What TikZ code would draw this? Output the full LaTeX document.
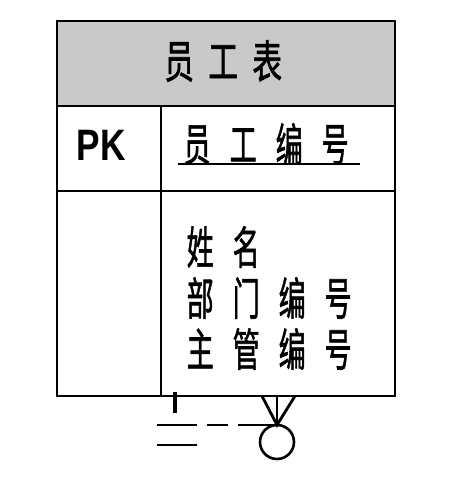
\documentclass[tikz,border=0pt]{standalone}
\usepackage{fontspec}
\setmainfont{Liberation Sans}
\newfontfamily\cjk[FakeBold=1.5]{Noto Sans CJK SC}
\newcommand\cch[1]{\makebox[44pt]{\scalebox{0.66}[1]{#1}}}
\newcommand\cca[1]{\makebox[46pt]{\scalebox{0.6}[1]{#1}}}
\begin{document}
\begin{tikzpicture}[x=1pt,y=-1pt,
  frame/.style={line width=2pt},
  cjktext/.style={font=\cjk\fontsize{45}{45}\selectfont, inner sep=0pt, anchor=west},
  pktext/.style={font=\bfseries\fontsize{44}{44}\selectfont, inner sep=0pt},
  relline/.style={line width=2.8pt}]
\fill[white] (0,0) rectangle (467,486);
\useasboundingbox (0,0) rectangle (467,486);
% table
\coordinate (tl) at (57,21);
\coordinate (br) at (395,396);
\fill[gray!42] (57,21) rectangle (395,106);
\draw[frame] (tl) rectangle (br);
\draw[frame] (57,106) -- (395,106);
\draw[frame] (57,191) -- (395,191);
\draw[frame] (161,106) -- (161,396);
% texts
\node[cjktext] (title) at (157,61) {\cch{员}\cch{工}\cch{表}};
\node[pktext] (pk) at (101,145) {\scalebox{0.8}[1]{PK}};
\node[cjktext] (key) at (174,144) {\cca{员}\cca{工}\cca{编}\cca{号}};
\draw[line width=2.2pt] (178,164) -- (360,164);
\node[cjktext] (a1) at (177,247) {\cca{姓}\cca{名}};
\node[cjktext] (a2) at (177,298) {\cca{部}\cca{门}\cca{编}\cca{号}};
\node[cjktext] (a3) at (177,349) {\cca{主}\cca{管}\cca{编}\cca{号}};
% self relationship
\coordinate (tick1) at (175,392);
\coordinate (tick2) at (175,413);
\coordinate (ls) at (157,425);
\coordinate (apex) at (277,425);
\coordinate (l2a) at (157,445);
\coordinate (l2b) at (197,445);
\coordinate (fl) at (262,396);
\coordinate (fm) at (277,396);
\coordinate (fr) at (295,396);
\draw[relline,line width=3.4pt] (tick1) -- (tick2);
\draw[relline,dash pattern=on 40pt off 10pt on 21pt off 10pt on 40pt] (ls) -- (apex);
\draw[relline] (l2a) -- (l2b);
\draw[relline] (fl) -- (apex) -- (fr);
\draw[relline] (fm) -- (apex);
\node[draw,circle,line width=2.6pt,minimum size=34pt,inner sep=0pt] (circ) at (277,442) {};
\end{tikzpicture}
\end{document}
